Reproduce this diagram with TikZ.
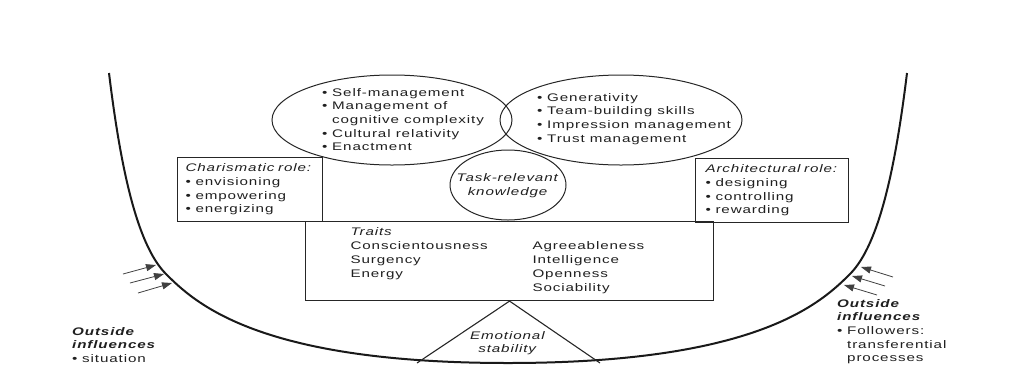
\documentclass[tikz,border=0pt]{standalone}
\usepackage{fontspec}
\setmainfont{Liberation Sans}[FakeStretch=1.38, LetterSpace=8]
\usetikzlibrary{shapes.geometric,arrows.meta}

\newcommand{\diagfont}{\fontsize{11}{13.7}\selectfont}
\newcommand{\itm}{\makebox[10pt][l]{\textbullet}}
\newcommand{\cnt}{\hspace*{10pt}}

\tikzset{
  txt/.style={inner sep=0pt, text=black!88, font=\diagfont, align=left},
  rolebox/.style={draw=black!85, line width=1.1pt, text=black!88, font=\diagfont, align=left, inner ysep=0pt},
  lens/.style={draw=black!85, line width=1pt, ellipse, inner sep=0pt},
  bowl/.style={draw=black!90, line width=2pt},
  rule/.style={draw=black!85, line width=1.1pt},
  influence/.style={draw=black!75, line width=0.8pt, -{Triangle[length=10pt,width=7pt]}},
}

\begin{document}
\begin{tikzpicture}[x=1pt,y=1pt,yscale=-1,xscale=1]
\useasboundingbox (0,0) rectangle (1012,365);

% the bowl
\coordinate (bowlL) at (109,73);
\coordinate (bowlB) at (508,363);
\coordinate (bowlR) at (907,73);
\draw[bowl] (bowlL) .. controls (120,163) and (136,244) .. (166,274) .. controls (196,304) and (260,363) .. (bowlB)
  .. controls (756,363) and (820,304) .. (850,274) .. controls (880,244) and (896,163) .. (bowlR);

% ellipses
\node[lens, minimum width=240pt, minimum height=90pt] (selfell) at (392,120) {};
\node[lens, minimum width=242pt, minimum height=90pt] (genell) at (621,120) {};
\node[lens, minimum width=116pt, minimum height=70pt] (taskell) at (508,185) {};

\node[txt, anchor=north west] (selflist) at (322,88) {\itm Self-management\\ \itm Management of\\ \cnt cognitive complexity\\ \itm Cultural relativity\\ \itm Enactment};
\node[txt, anchor=north west] (genlist) at (537,93) {\itm Generativity\\ \itm Team-building skills\\ \itm Impression management\\ \itm Trust management};
\node[txt, align=center] (tasktext) at (508,186) {\textit{Task-relevant}\\ \textit{knowledge}};

% role boxes
\node[rolebox, anchor=north west, minimum width=145pt, minimum height=64pt, inner xsep=8pt, text width=129pt] (charis) at (177,157) {\textit{Charismatic role:}\\ \itm envisioning\\ \itm empowering\\ \itm energizing};
\node[rolebox, anchor=north west, minimum width=153pt, minimum height=64pt, inner xsep=10pt, text width=133pt] (archi) at (695,158) {\textit{Architectural role:}\\ \itm designing\\ \itm controlling\\ \itm rewarding};

% traits
\node[rolebox, anchor=north west, minimum width=408pt, minimum height=79pt, inner xsep=45pt, text width=318pt] (traits) at (305,221) {\fontsize{11}{14}\selectfont\begin{tabular}{@{}p{182pt}@{}l@{}}
\textit{Traits} & \\
Conscientousness & Agreeableness\\
Surgency & Intelligence\\
Energy & Openness\\
 & Sociability
\end{tabular}};

% emotional stability
\coordinate (emoL) at (417,363);
\coordinate (emoR) at (600,363);
\draw[rule] (emoL) -- (traits.south) -- (emoR);
\node[txt, align=center] (emotext) at (508,343) {\textit{Emotional}\\ \textit{stability}};

% outside influences
\node[txt, anchor=north west] (outL) at (72,327) {\textbf{\textit{Outside}}\\ \textbf{\textit{influences}}\\ \itm situation};
\node[txt, anchor=north west] (outR) at (837,299) {\textbf{\textit{Outside}}\\ \textbf{\textit{influences}}\\ \itm Followers:\\ \cnt transferential\\ \cnt processes};

\foreach \n/\a/\b/\c/\d in {1/123/274/156/265, 2/130/283/164/274, 3/138/293/172/283}{
  \coordinate (inL\n) at (\a,\b);
  \coordinate (tipL\n) at (\c,\d);
  \draw[influence] (inL\n) -- (tipL\n);
}
\foreach \n/\a/\b/\c/\d in {1/893/277/861/267, 2/885/286/852/276, 3/877/295/844/285}{
  \coordinate (inR\n) at (\a,\b);
  \coordinate (tipR\n) at (\c,\d);
  \draw[influence] (inR\n) -- (tipR\n);
}

\end{tikzpicture}
\end{document}
